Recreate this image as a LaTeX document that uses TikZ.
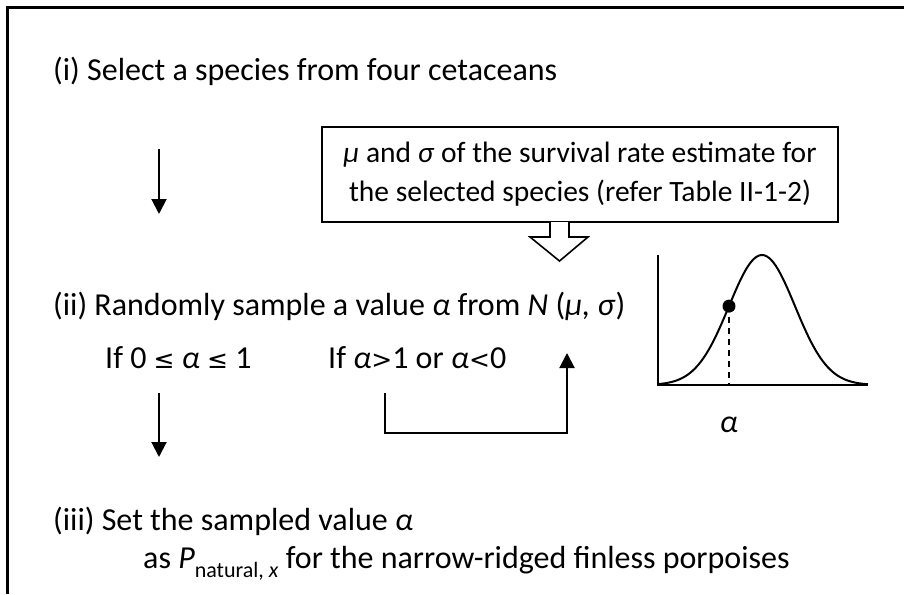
\documentclass[tikz,border=0pt]{standalone}
\usepackage{fontspec}
\setmainfont{Carlito}
\newfontfamily\dvsfont{DejaVu Sans}
\usetikzlibrary{arrows.meta}
\newcommand{\relsym}[1]{{\dvsfont\fontsize{25}{25}\selectfont #1}}
\begin{document}
\begin{tikzpicture}[x=1pt,y=-1pt,
  txt/.style={inner sep=0pt, anchor=base west, font=\fontsize{32}{40}\selectfont},
  arr/.style={line width=2pt, -{Triangle[length=15pt,width=15pt]}},
  ln/.style={line width=2pt},
  boxst/.style={draw, line width=2pt, inner sep=0pt, minimum width=516pt, minimum height=95pt, align=center, font=\fontsize{29.5}{39}\selectfont}]
\useasboundingbox (0,0) rectangle (904,594);
% frame
\draw[line width=3pt] (7,594) -- (7,8) -- (904,8);
% texts
\node[txt] (t1) at (53,80) {(i) Select a species from four cetaceans};
\node[boxst] (box) at (580,174.5) {\textit{μ} and \textit{σ} of the survival rate estimate for\\the selected species (refer Table II-1-2)};
\node[txt] (t2) at (53,315) {(ii) Randomly sample a value \textit{α} from \textit{N} (\textit{μ, σ})};
\node[txt] (c1) at (105,368) {If 0 \relsym{≤} \textit{α} \relsym{≤} 1};
\node[txt] (c2) at (328,368) {If \textit{α}\relsym{>}1 or \textit{α}\relsym{<}0};
\node[txt] (t3) at (53,530) {(iii) Set the sampled value \textit{α}};
\node[txt] (t3b) at (143,568) {as \textit{P}\raisebox{-0.3em}{\fontsize{22}{22}\selectfont natural, \textit{x}} for the narrow-ridged finless porpoises};
% arrows
\coordinate (a1s) at (159,149);
\coordinate (a1e) at (159,214);
\draw[arr] (a1s) -- (a1e);
\coordinate (a2s) at (159,393);
\coordinate (a2e) at (159,457);
\draw[arr] (a2s) -- (a2e);
\coordinate (l1) at (385,393);
\coordinate (l2) at (567,353);
\draw[arr] (l1) -- ++(0,40) -| (l2);
% block arrow
\draw[line width=1.6pt, fill=white, line join=miter] (550,222) -- (550,237) -- (530,237) -- (559.5,261) -- (588,237) -- (569,237) -- (569,222);
% graph
\draw[ln] (658,255) -- (658,385) -- (868,385);
\draw[ln, smooth, samples=80, domain=658:868] plot (\x, {385-130*exp(-((\x-762)*(\x-762))/2178)});
\coordinate (dot) at (729, {385-130*exp(-1089/2178)});
\draw[ln, dash pattern=on 6pt off 5pt] (dot) -- (729,385);
\fill (dot) circle (6.5pt);
\node[txt, anchor=base] (al) at (729,432) {\textit{α}};
\end{tikzpicture}
\end{document}
